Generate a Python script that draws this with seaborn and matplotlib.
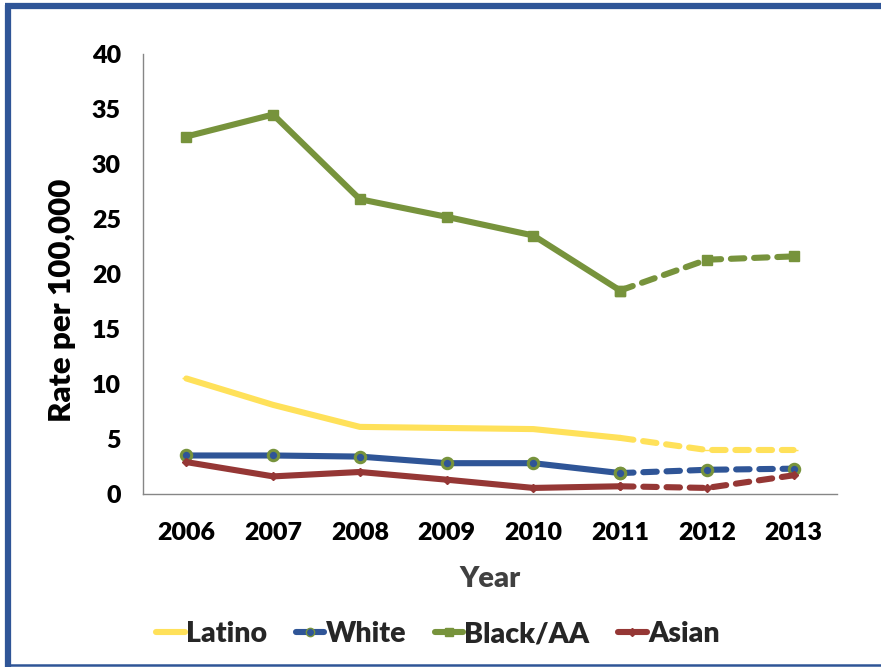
import matplotlib
matplotlib.use("Agg")
import matplotlib.pyplot as plt
from matplotlib.lines import Line2D
import seaborn as sns
import pandas as pd

# Rates per 100,000 by group; 2011-2013 drawn dashed (provisional)
years = [2006, 2007, 2008, 2009, 2010, 2011, 2012, 2013]
latino = [10.5, 8.1, 6.1, 6.0, 5.9, 5.1, 4.0, 4.0]
white = [3.5, 3.5, 3.4, 2.8, 2.8, 1.9, 2.2, 2.3]
black_aa = [32.5, 34.5, 26.8, 25.2, 23.5, 18.5, 21.3, 21.6]
asian = [2.9, 1.6, 2.0, 1.3, 0.55, 0.7, 0.55, 1.7]
groups = ["Latino", "White", "Black/AA", "Asian"]
y_ticks = [0, 5, 10, 15, 20, 25, 30, 35, 40]
split_year = 2011

colors = {"Latino": "#FFE15A", "White": "#2F5597", "Black/AA": "#77933C", "Asian": "#953735"}
markers = {"Latino": "_", "White": "o", "Black/AA": "s", "Asian": "D"}
msize = {"Latino": 6, "White": 7.5, "Black/AA": 6.5, "Asian": 4.5}
mface = {"Latino": "#FFE15A", "White": "#2F5597", "Black/AA": "#77933C", "Asian": "#953735"}
medge = {"Latino": "#FFE15A", "White": "#77933C", "Black/AA": "#77933C", "Asian": "#953735"}

rows = []
for g, vals in zip(groups, [latino, white, black_aa, asian]):
    for yr, v in zip(years, vals):
        rows.append({"Year": yr, "Rate": v, "Group": g})
df = pd.DataFrame(rows)

sns.set_theme(style="white")
plt.rcParams["font.family"] = ["Lato", "DejaVu Sans"]
WEIGHT = "heavy"

fig = plt.figure(figsize=(8.81, 6.67), dpi=100)
ax = fig.add_axes([0.1623, 0.2594, 0.7877, 0.6596])

lw = 4.4
for g in groups:
    sub = df[df["Group"] == g]
    solid = sub[sub["Year"] <= split_year]
    dashed = sub[sub["Year"] >= split_year]
    sns.lineplot(data=solid, x="Year", y="Rate", ax=ax, color=colors[g], lw=lw,
                 marker=markers[g], markersize=msize[g], markerfacecolor=mface[g],
                 markeredgecolor=medge[g], markeredgewidth=2.2 if g == "White" else 1,
                 solid_capstyle="round", legend=False, zorder=3)
    sns.lineplot(data=dashed, x="Year", y="Rate", ax=ax, color=colors[g], lw=lw,
                 linestyle=(0, (2.2, 1.6)), dash_capstyle="round",
                 marker=markers[g], markersize=msize[g], markerfacecolor=mface[g],
                 markeredgecolor=medge[g], markeredgewidth=2.2 if g == "White" else 1,
                 legend=False, zorder=3)

ax.set_xlim(years[0] - 0.5, years[-1] + 0.5)
ax.set_ylim(0, 40)
ax.set_xticks(years)
ax.set_xticklabels([str(y) for y in years])
ax.set_yticks(y_ticks)
ax.tick_params(axis="both", length=0, labelsize=18, colors="black")
ax.tick_params(axis="x", pad=20)
ax.tick_params(axis="y", pad=16)
for lab in ax.get_xticklabels() + ax.get_yticklabels():
    lab.set_fontweight(WEIGHT)

for side in ["top", "right"]:
    ax.spines[side].set_visible(False)
for side in ["left", "bottom"]:
    ax.spines[side].set_color("#868686")
    ax.spines[side].set_linewidth(1.0)

ax.set_xlabel("Year", fontsize=21, fontweight=WEIGHT, color="#404040", labelpad=16)
ax.set_ylabel("Rate per 100,000", fontsize=22.5, fontweight=WEIGHT, color="black")
ax.yaxis.set_label_coords(-0.097, 0.44)

handles = [Line2D([0], [0], color=colors[g], lw=lw, marker=markers[g],
                  markersize=msize[g] * 0.8, markerfacecolor=mface[g],
                  markeredgecolor=medge[g]) for g in groups]
fig.legend(handles, groups, loc="center", bbox_to_anchor=(0.497, 0.049), ncol=4,
           frameon=False, prop={"size": 20.5, "weight": WEIGHT}, handlelength=1.0,
           handletextpad=0.05, columnspacing=1.0)

# Blue frame around the figure
fig.add_artist(Line2D([0.0093, 0.0093], [0.0, 0.9925], transform=fig.transFigure,
                      color="#2F5597", lw=4.5, solid_capstyle="butt"))
fig.add_artist(Line2D([0.006, 1.0], [0.9910, 0.9910], transform=fig.transFigure,
                      color="#2F5597", lw=4.5, solid_capstyle="butt"))
fig.add_artist(Line2D([0.006, 1.0], [0.0025, 0.0025], transform=fig.transFigure,
                      color="#2F5597", lw=1.8, solid_capstyle="butt"))

fig.savefig("out.png", dpi=100)
